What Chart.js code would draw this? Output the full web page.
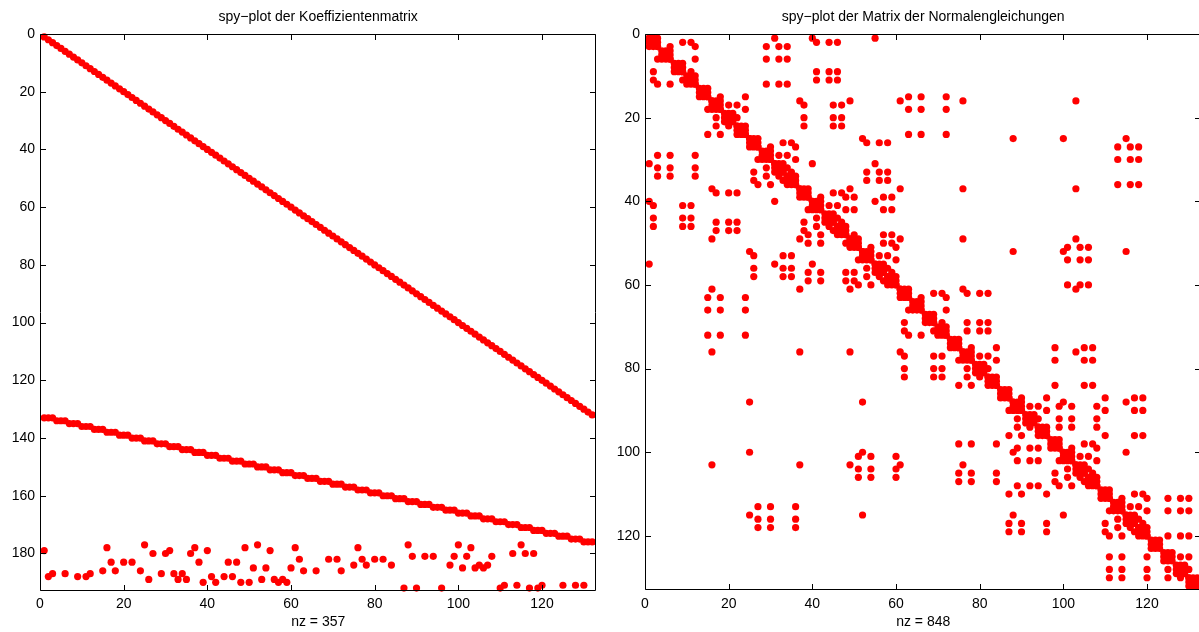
<!DOCTYPE html>
<html><head><meta charset="utf-8">
<script src="https://cdn.jsdelivr.net/npm/chart.js@4.4.1/dist/chart.umd.min.js"></script>
<style>
html,body{margin:0;padding:0;background:#fff;overflow:hidden;width:1199px;height:632px;}
#c1{position:absolute;left:0;top:0;}
#c2{position:absolute;left:598px;top:0;}
</style></head><body>
<canvas id="c1" width="600" height="632"></canvas>
<canvas id="c2" width="622" height="632"></canvas>
<script>
// ---------- data: left plot (coefficient matrix, 192 x 132) ----------
const colIndex = [1,2,3,4,5,6,7,8,9,10,11,12,13,14,15,16,17,18,19,20,21,22,23,24,25,26,27,28,29,30,
31,32,33,34,35,36,37,38,39,40,41,42,43,44,45,46,47,48,49,50,51,52,53,54,55,56,57,58,59,60,
61,62,63,64,65,66,67,68,69,70,71,72,73,74,75,76,77,78,79,80,81,82,83,84,85,86,87,88,89,90,
91,92,93,94,95,96,97,98,99,100,101,102,103,104,105,106,107,108,109,110,111,112,113,114,115,116,117,118,119,120,
121,122,123,124,125,126,127,128,129,130,131,132];
const bandRows = [133,133,133,134,134,134,135,135,135,136,136,136,137,137,137,138,138,138,139,139,139,140,140,140,141,141,141,142,142,142,
143,143,143,144,144,144,145,145,145,146,146,146,147,147,147,148,148,148,149,149,149,150,150,150,151,151,151,152,152,152,
153,153,153,154,154,154,155,155,155,156,156,156,157,157,157,158,158,158,159,159,159,160,160,160,161,161,161,162,162,162,
163,163,163,164,164,164,165,165,165,166,166,166,167,167,167,168,168,168,169,169,169,170,170,170,171,171,171,172,172,172,
173,173,173,174,174,174,175,175,175,176,176,176];
const extraCols = [1,2,3,6,9,11,12,15,16,17,18,20,22,24,25,26,27,29,30,31,32,33,34,35,36,37,38,39,40,41,
42,44,45,46,47,48,49,50,51,52,53,54,55,56,57,58,59,60,61,62,63,66,69,71,72,75,76,77,78,80,
82,84,87,88,89,90,92,94,96,98,99,100,101,102,103,104,105,106,107,108,110,111,113,114,115,116,117,118,119,120,
125,128,130];
const extraRows = [179,188,187,187,188,188,187,186,178,183,186,183,183,186,177,189,180,187,180,179,187,189,187,189,180,178,183,190,179,188,
190,188,183,188,183,190,178,190,185,177,189,185,179,189,190,189,190,185,178,182,186,186,182,182,186,184,178,182,184,182,
182,184,192,177,181,192,181,181,192,184,181,177,185,181,178,185,184,185,184,181,192,191,180,191,177,180,192,180,192,191,
191,191,191];

// ---------- data: right plot (normal equations matrix, 132 x 132) ----------
const blockStarts = [1,4,7,10,13,16,19,22,25,28,31,34,37,40,43,46,49,52,55,58,61,64,67,70,73,76,79,82,85,88,
91,94,97,100,103,106,109,112,115,118,121,124,127,130];
const blockSize = 3;
const couplingGroups = [
  [25,52,88,100,115],
  [16,37,49,61,76,103],
  [1,31,40,55],
  [27,30,36,113,116,118],
  [89,92,94,99,102,108],
  [62,69,71,77,80,82],
  [17,20,22,38,45,47],
  [75,78,84,98,105,107],
  [51,54,60,101,104,106],
  [15,18,24,63,66,72],
  [3,6,12,29,32,34],
  [2,9,11,41,44,46],
  [26,33,35,53,56,58],
  [39,42,48,50,57,59],
  [111,114,120,125,128,130],
  [87,90,96,110,117,119]
];

// ---------- tick labels / texts ----------
const leftXTicks = [0,20,40,60,80,100,120];
const leftYTicks = [0,20,40,60,80,100,120,140,160,180];
const rightXTicks = [0,20,40,60,80,100,120];
const rightYTicks = [0,20,40,60,80,100,120];
const leftTitle = 'spy\u2212plot der Koeffizientenmatrix';
const rightTitle = 'spy\u2212plot der Matrix der Normalengleichungen';
const leftXLabel = 'nz = 357';
const rightXLabel = 'nz = 848';

// ---------- build tables ----------
const leftPoints = [];
colIndex.forEach(c => leftPoints.push({x: c, y: c}));
colIndex.forEach((c, i) => leftPoints.push({x: c, y: bandRows[i]}));
extraCols.forEach((c, i) => leftPoints.push({x: c, y: extraRows[i]}));

const rightPoints = [];
blockStarts.forEach(b => {
  for (let i = 0; i < blockSize; i++) for (let j = 0; j < blockSize; j++) rightPoints.push({x: b + i, y: b + j});
});
couplingGroups.forEach(g => g.forEach(a => g.forEach(c => rightPoints.push({x: a, y: c}))));

const FONT = '"Liberation Sans", Arial, Helvetica, sans-serif';
const FSIZE = 14;

const framePlugin = {
  id: 'frame',
  afterDatasetsDraw(chart, args, opts) {
    const {ctx, chartArea: a, scales: {x, y}} = chart;
    ctx.save();
    ctx.strokeStyle = '#000';
    ctx.lineWidth = 1;
    const L = Math.round(a.left) + 0.5, R = Math.round(a.right) - 0.5;
    const T = Math.round(a.top) + 0.5, B = Math.round(a.bottom) - 0.5;
    ctx.beginPath();
    ctx.moveTo(L, T); ctx.lineTo(R, T); ctx.lineTo(R, B); ctx.lineTo(L, B); ctx.closePath();
    ctx.stroke();
    const tl = 5.5;
    ctx.beginPath();
    x.ticks.forEach(t => {
      const px = Math.round(x.getPixelForValue(t.value)) + 0.5;
      ctx.moveTo(px, B); ctx.lineTo(px, B - tl);
      ctx.moveTo(px, T); ctx.lineTo(px, T + tl);
    });
    y.ticks.forEach(t => {
      const py = Math.round(y.getPixelForValue(t.value)) + 0.5;
      ctx.moveTo(L, py); ctx.lineTo(L + tl, py);
      ctx.moveTo(R, py); ctx.lineTo(R - tl, py);
    });
    ctx.stroke();
    ctx.fillStyle = '#000';
    ctx.font = FSIZE + 'px ' + FONT;
    ctx.textAlign = 'center';
    ctx.textBaseline = 'middle';
    const cx = (a.left + a.right) / 2 + (opts.titleShift || 0);
    ctx.fillText(opts.title, cx, 17);
    ctx.fillText(opts.xlabel, (a.left + a.right) / 2, 622);
    ctx.restore();
  }
};

function makeChart(id, pts, cfg) {
  return new Chart(document.getElementById(id), {
    type: 'scatter',
    data: {datasets: [{
      data: pts,
      pointRadius: 3.6,
      pointHoverRadius: 3.6,
      pointStyle: 'circle',
      backgroundColor: '#ff0000',
      borderWidth: 0,
      clip: false
    }]},
    options: {
      responsive: false,
      animation: false,
      events: [],
      layout: {padding: {left: 0, top: 34, right: cfg.padRight, bottom: 0}},
      plugins: {
        legend: {display: false},
        tooltip: {enabled: false},
        title: {display: false},
        frame: {title: cfg.title, xlabel: cfg.xlabel, titleShift: cfg.titleShift || 0}
      },
      scales: {
        x: {
          type: 'linear', position: 'bottom', min: 0, max: cfg.xmax,
          afterBuildTicks: s => { s.ticks = cfg.xticks.map(v => ({value: v})); },
          afterFit: s => { s.height = cfg.xh; },
          grid: {display: false, drawTicks: false},
          border: {display: false},
          ticks: {color: '#000', font: {family: FONT, size: FSIZE}, padding: 5, maxRotation: 0, autoSkip: false}
        },
        y: {
          type: 'linear', position: 'left', reverse: true, min: 0, max: cfg.ymax,
          afterBuildTicks: s => { s.ticks = cfg.yticks.map(v => ({value: v})); },
          afterFit: s => { s.width = cfg.yw; },
          grid: {display: false, drawTicks: false},
          border: {display: false},
          ticks: {color: '#000', font: {family: FONT, size: FSIZE}, padding: 5, autoSkip: false}
        }
      }
    },
    plugins: [framePlugin]
  });
}

makeChart('c1', leftPoints, {
  xmax: 133, ymax: 193, xticks: leftXTicks, yticks: leftYTicks,
  padRight: 2, xh: 41, yw: 40, title: leftTitle, xlabel: leftXLabel
});
makeChart('c2', rightPoints, {
  xmax: 133, ymax: 133, xticks: rightXTicks, yticks: rightYTicks,
  padRight: 18.6, xh: 41.7, yw: 47, title: rightTitle, xlabel: rightXLabel
});
</script>
</body></html>
